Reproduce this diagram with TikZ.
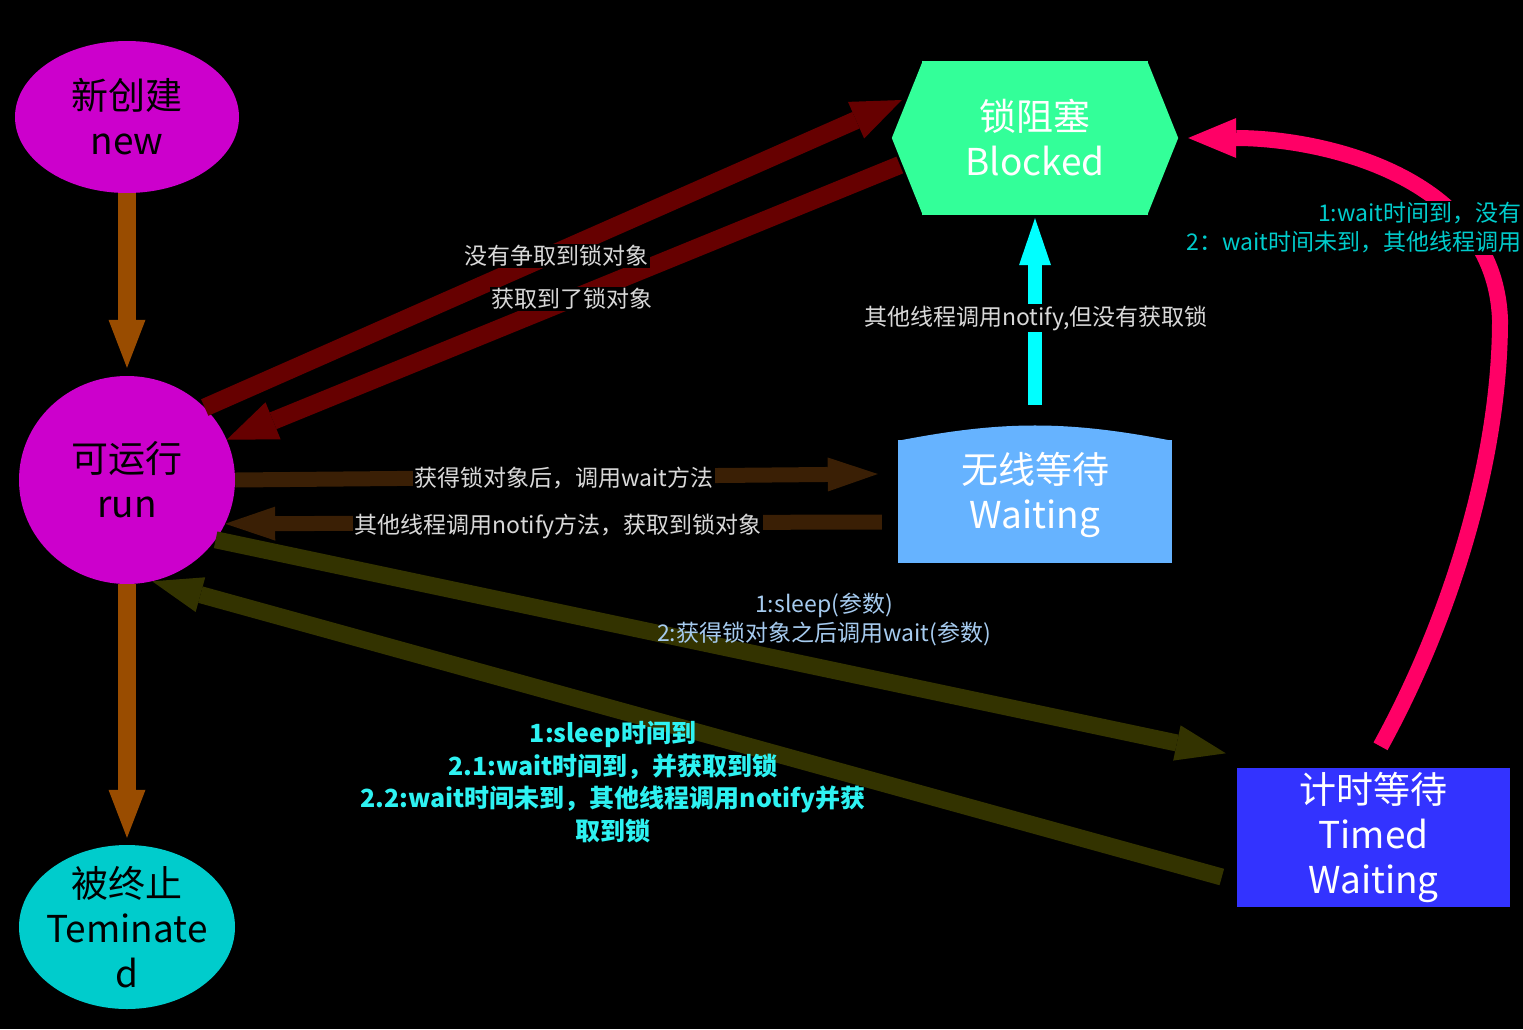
\documentclass[tikz,border=0pt]{standalone}
\usepackage{fontspec}
\setmainfont{Noto Sans CJK SC}
\usetikzlibrary{arrows.meta,shapes.geometric}
\definecolor{statepink}{HTML}{CC00CC}
\definecolor{endcyan}{HTML}{00CCCC}
\definecolor{lockgreen}{HTML}{33FF99}
\definecolor{waitblue}{HTML}{66B3FF}
\definecolor{timeblue}{HTML}{3333FF}
\definecolor{arrbrown}{HTML}{994C00}
\definecolor{arrred}{HTML}{660000}
\definecolor{arrdark}{HTML}{3A1F05}
\definecolor{arrolive}{HTML}{333300}
\definecolor{arrcyan}{HTML}{00FFFF}
\definecolor{arrpink}{HTML}{FF0066}
\definecolor{lblgray}{HTML}{D9D9D9}
\definecolor{lblblue}{HTML}{A6CBEF}
\definecolor{lblcyan}{HTML}{2EF2F2}
\definecolor{lblteal}{HTML}{00CCCC}
\begin{document}
\begin{tikzpicture}[x=1pt, y=-1pt, line join=round,
	bigtext/.style={font=\fontsize{37}{45}\selectfont, align=center},
	state/.style={ellipse, bigtext, fill=statepink, text=black, inner sep=-12pt},
	box/.style={rectangle, bigtext, text=white, inner sep=0pt},
	lbl/.style={fill=black, text=lblgray, inner sep=1.5pt, font=\fontsize{23}{29}\selectfont},
	brarrow/.style={draw=arrbrown, line width=18pt, -{Triangle[width=37pt,length=48pt,line width=0pt]}},
	redarrow/.style={draw=arrred, line width=18pt, -{Triangle[width=40pt,length=50pt,line width=0pt]}},
	darkarrow/.style={draw=arrdark, line width=15pt, -{Triangle[width=34pt,length=50pt,line width=0pt]}},
	olivearrow/.style={draw=arrolive, line width=17pt, -{Triangle[width=36pt,length=50pt,line width=0pt]}},
	cyanarrow/.style={draw=arrcyan, line width=14pt, -{Triangle[width=32pt,length=47pt,line width=0pt]}},
	pinkarrow/.style={draw=arrpink, line width=16pt, -{Triangle[width=40pt,length=48pt,line width=0pt]}}]
	\useasboundingbox (0,0) rectangle (1523,1029);
	\fill[black] (0,0) rectangle (1523,1029);
	\clip (0,0) rectangle (1523,1029);
	% states
	\node[state, minimum width=224pt, minimum height=152pt] (new) at (127,117) {新创建\\new};
	\node[state, minimum width=216pt, minimum height=208pt] (run) at (127,480) {可运行\\run};
	\node[state, fill=endcyan, minimum width=216pt, minimum height=164pt] (term) at (127,927) {被终止\\Teminate\\d};
	\node[box, fill=lockgreen, minimum width=226pt, minimum height=154pt] (blocked) at (1035,138) {锁阻塞\\Blocked};
	\fill[lockgreen] ([xshift=1pt]blocked.north west) -- ([xshift=-30pt]blocked.west) -- ([xshift=1pt]blocked.south west) -- cycle;
	\fill[lockgreen] ([xshift=-1pt]blocked.north east) -- ([xshift=30pt]blocked.east) -- ([xshift=-1pt]blocked.south east) -- cycle;
	\node[box, fill=waitblue, minimum width=274pt, minimum height=110pt] (waiting) at (1035,495) {无线等待\\Waiting};
	\fill[waitblue] ([yshift=-1pt]waiting.north west) to[bend left=11] ([yshift=-1pt]waiting.north east) -- cycle;
	\fill[waitblue] ([yshift=1pt]waiting.south west) rectangle ([yshift=-13pt]waiting.south east);
	\node[box, fill=timeblue, minimum width=273pt, minimum height=139pt] (timed) at (1373.5,837) {计时等待\\Timed\\Waiting};
	% arrows
	\draw[brarrow, shorten >=8pt] (new.south) -- (run.north);
	\draw[brarrow, shorten >=7pt] (run.south) -- (term.north);
	\draw[redarrow] (run.43) -- ([shift={(-20,-38)}]blocked.west);
	\draw[redarrow] ([shift={(-22,27)}]blocked.west) -- (run.22);
	\draw[darkarrow] (run.east) -- ([shift={(-20,-21)}]waiting.west);
	\draw[darkarrow] ([shift={(-16,27)}]waiting.west) -- (run.-24);
	\draw[cyanarrow] ([yshift=35pt]waiting.north) -- ([yshift=-3pt]blocked.south);
	\draw[olivearrow] (run.-34) -- ([shift={(-11,-14)}]timed.north west);
	\draw[olivearrow] ([shift={(-15,40)}]timed.west) -- (run.-76);
	\draw[pinkarrow] ([shift={(7,-21)}]timed.north) .. controls (1450,620) and (1500,460) .. (1500,320)
		.. controls (1495,175) and (1320,138) .. ([xshift=40pt]blocked.east);
	% labels
	\node[lbl] (l1) at (556,256) {没有争取到锁对象};
	\node[lbl] (l2) at (572,299) {获取到了锁对象};
	\node[lbl] (l3) at (564,478) {获得锁对象后，调用wait方法};
	\node[lbl] (l4) at (558,526) {其他线程调用notify方法，获取到锁对象};
	\node[lbl] (l5) at (1036,318) {其他线程调用notify,但没有获取锁};
	\node[lbl, fill=none, text=lblblue, align=center] (l6) at (824,620) {1:sleep(参数)\\2:获得锁对象之后调用wait(参数)};
	\node[text=lblcyan, align=center, inner sep=0pt, font=\fontsize{25}{32.5}\selectfont\bfseries] (l7) at (613,782)
		{1:sleep时间到\\2.1:wait时间到，并获取到锁\\2.2:wait时间未到，其他线程调用notify并获\\取到锁};
	\node[lbl, text=lblteal, align=right, anchor=east] (l8) at (1523,228) {1:wait时间到，没有\\2：wait时间未到，其他线程调用};
\end{tikzpicture}
\end{document}
